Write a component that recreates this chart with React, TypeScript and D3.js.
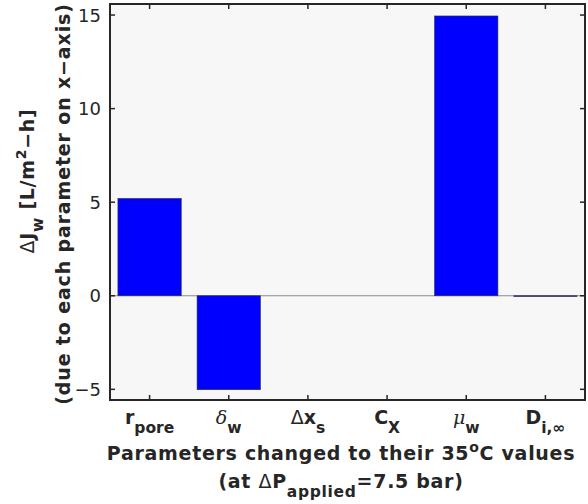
import React from "react";
import * as d3 from "d3";

// Change in water flux when each parameter is set to its 35 °C value
const paramKeys = ["rpore", "deltaw", "dxs", "cx", "muw", "dinf"];
const fluxChange = [5.2, -5.02, 0.0, 0.0, 14.95, -0.04];
const yTicks = [-5, 0, 5, 10, 15];

const W = 588;
const H = 504;
const margin = { left: 110, right: 3, top: 4, bottom: 104 };
const FONT = "'DejaVu Sans', sans-serif";
const AXIS = "#262626";
const SUB_DY = 9;

function TickLabel({ k }: { k: string }) {
  const subSize = 15.5;
  const greek = { fontStyle: "italic", fontWeight: "normal", fontFamily: "'DejaVu Serif', serif" } as const;
  switch (k) {
    case "rpore":
      return (
        <>
          <tspan>r</tspan>
          <tspan fontSize={subSize} dy={SUB_DY}>pore</tspan>
        </>
      );
    case "deltaw":
      return (
        <>
          <tspan {...greek}>δ</tspan>
          <tspan fontSize={subSize} dy={SUB_DY}>w</tspan>
        </>
      );
    case "dxs":
      return (
        <>
          <tspan fontWeight="normal">Δ</tspan>
          <tspan>x</tspan>
          <tspan fontSize={subSize} dy={SUB_DY}>s</tspan>
        </>
      );
    case "cx":
      return (
        <>
          <tspan>C</tspan>
          <tspan fontSize={subSize} dy={SUB_DY}>X</tspan>
        </>
      );
    case "muw":
      return (
        <>
          <tspan {...greek}>μ</tspan>
          <tspan fontSize={subSize} dy={SUB_DY}>w</tspan>
        </>
      );
    default:
      return (
        <>
          <tspan>D</tspan>
          <tspan fontSize={subSize} dy={SUB_DY}>i,∞</tspan>
        </>
      );
  }
}

export default function App() {
  const x = d3
    .scaleLinear()
    .domain([0.5, paramKeys.length + 0.5])
    .range([margin.left, W - margin.right]);
  const y = d3
    .scaleLinear()
    .domain([-5.57, 15.59])
    .range([H - margin.bottom, margin.top]);

  const x0 = x.range()[0];
  const x1 = x.range()[1];
  const y0 = y.range()[1];
  const y1 = y.range()[0];
  const barW = x(1.8) - x(1);
  const tickLen = 5;
  const titleX = 341;

  return (
    <svg
      width={W}
      height={H}
      style={{ position: "absolute", left: 0, top: 0 }}
      fontFamily={FONT}
    >
      <rect x={x0} y={y0} width={x1 - x0} height={y1 - y0} fill="#f7f7f7" />

      {/* baseline at zero */}
      <line x1={x0} x2={x1} y1={y(0)} y2={y(0)} stroke="#8c8c8c" strokeWidth={1} />

      {fluxChange.map((v, i) => {
        const cx = x(i + 1);
        const top = Math.min(y(v), y(0));
        const h = Math.abs(y(v) - y(0));
        return (
          <rect
            key={paramKeys[i]}
            x={cx - barW / 2}
            y={top}
            width={barW}
            height={h}
            fill="#0000ff"
            stroke="#333333"
            strokeWidth={0.6}
          />
        );
      })}

      {/* ticks on all four sides */}
      {yTicks.map((t) => (
        <g key={"y" + t}>
          <line x1={x0} x2={x0 + tickLen} y1={y(t)} y2={y(t)} stroke={AXIS} strokeWidth={1.5} />
          <line x1={x1} x2={x1 - tickLen} y1={y(t)} y2={y(t)} stroke={AXIS} strokeWidth={1.5} />
          <text
            x={x0 - 9}
            y={y(t)}
            textAnchor="end"
            dominantBaseline="central"
            fontSize={18}
            fill={AXIS}
          >
            {t < 0 ? "−" + Math.abs(t) : t}
          </text>
        </g>
      ))}
      {paramKeys.map((k, i) => (
        <g key={"x" + k}>
          <line x1={x(i + 1)} x2={x(i + 1)} y1={y1} y2={y1 - tickLen} stroke={AXIS} strokeWidth={1.5} />
          <line x1={x(i + 1)} x2={x(i + 1)} y1={y0} y2={y0 + tickLen} stroke={AXIS} strokeWidth={1.5} />
          <text
            x={x(i + 1)}
            y={y1 + 24}
            textAnchor="middle"
            fontSize={19}
            fontWeight="bold"
            fill={AXIS}
          >
            <TickLabel k={k} />
          </text>
        </g>
      ))}

      <rect
        x={x0}
        y={y0}
        width={x1 - x0}
        height={y1 - y0}
        fill="none"
        stroke={AXIS}
        strokeWidth={2}
      />

      {/* x-axis title */}
      <text
        x={titleX}
        y={460}
        textAnchor="middle"
        fontSize={19}
        fontWeight="bold"
        letterSpacing={0.7}
        fill={AXIS}
      >
        Parameters changed to their 35
        <tspan fontSize={14} dy={-8}>o</tspan>
        <tspan dy={8}>C values</tspan>
      </text>
      <text
        x={titleX}
        y={488}
        textAnchor="middle"
        fontSize={19}
        fontWeight="bold"
        letterSpacing={0.7}
        fill={AXIS}
      >
        (at <tspan fontWeight="normal">Δ</tspan>P
        <tspan fontSize={15.5} dy={SUB_DY}>applied</tspan>
        <tspan dy={-SUB_DY}>=7.5 bar)</tspan>
      </text>

      {/* y-axis title */}
      <g transform={`translate(34, 181) rotate(-90)`}>
        <text textAnchor="middle" fontSize={19} fontWeight="bold" letterSpacing={0.7} fill={AXIS}>
          <tspan fontWeight="normal">Δ</tspan>J
          <tspan fontSize={15.5} dy={SUB_DY}>w</tspan>
          <tspan dy={-SUB_DY}> [L/m</tspan>
          <tspan fontSize={14} dy={-8}>2</tspan>
          <tspan dy={8}>−h]</tspan>
        </text>
      </g>
      <g transform={`translate(70, 204) rotate(-90)`}>
        <text textAnchor="middle" fontSize={19} fontWeight="bold" letterSpacing={0.85} fill={AXIS}>
          (due to each parameter on x−axis)
        </text>
      </g>
    </svg>
  );
}
